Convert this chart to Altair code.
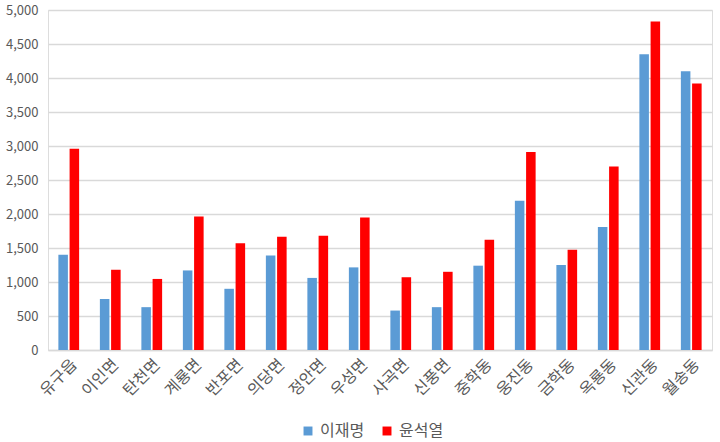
import altair as alt
import pandas as pd

regions = ["유구읍", "이인면", "탄천면", "계룡면", "반포면", "의당면", "정안면", "우성면",
           "사곡면", "신풍면", "중학동", "웅진동", "금학동", "옥룡동", "신관동", "월송동"]
lee = [1400, 750, 630, 1170, 900, 1390, 1060, 1215, 580, 630, 1240, 2195, 1250, 1810, 4350, 4100]
yoon = [2960, 1180, 1045, 1965, 1570, 1665, 1680, 1950, 1070, 1150, 1620, 2910, 1475, 2700, 4830, 3920]
series = ["이재명", "윤석열"]
colors = ["#5B9BD5", "#FF0000"]

rows = []
for i, r in enumerate(regions):
    rows.append({"region": r, "candidate": series[0], "votes": lee[i]})
    rows.append({"region": r, "candidate": series[1], "votes": yoon[i]})
df = pd.DataFrame(rows)

font = "Noto Sans CJK KR"

chart = alt.Chart(df).mark_bar().encode(
    x=alt.X("region:N", sort=regions, title=None,
            scale=alt.Scale(paddingInner=0.5, paddingOuter=0.25),
            axis=alt.Axis(labelAngle=-45, labelFontSize=16, labelColor="#595959",
                          labelFont=font, ticks=False, domainColor="#D9D9D9",
                          domainWidth=1.5, labelPadding=6)),
    xOffset=alt.XOffset("candidate:N", sort=series, scale=alt.Scale(paddingInner=0.15)),
    y=alt.Y("votes:Q", title=None,
            scale=alt.Scale(domain=[0, 5000]),
            axis=alt.Axis(values=list(range(0, 5001, 500)), format=",.0f", labelFontSize=13,
                          labelColor="#595959", labelFont=font, domain=False, ticks=False,
                          gridColor="#D9D9D9", gridWidth=1.5, labelPadding=10)),
    color=alt.Color("candidate:N", sort=series,
                    scale=alt.Scale(domain=series, range=colors),
                    legend=alt.Legend(title=None, orient="none", direction="horizontal",
                                      legendX=252, legendY=413, symbolType="square",
                                      symbolSize=80, labelFontSize=16, labelColor="#595959",
                                      labelFont=font, columnPadding=14, symbolStrokeWidth=0)),
).properties(
    width=664, height=340,
    autosize=alt.AutoSizeParams(type="none"),
    padding={"left": 48, "top": 10, "right": 8, "bottom": 92},
).configure_view(stroke=None).configure(background="white")

chart.save("out.html", embed_options={"renderer": "svg", "actions": False})
